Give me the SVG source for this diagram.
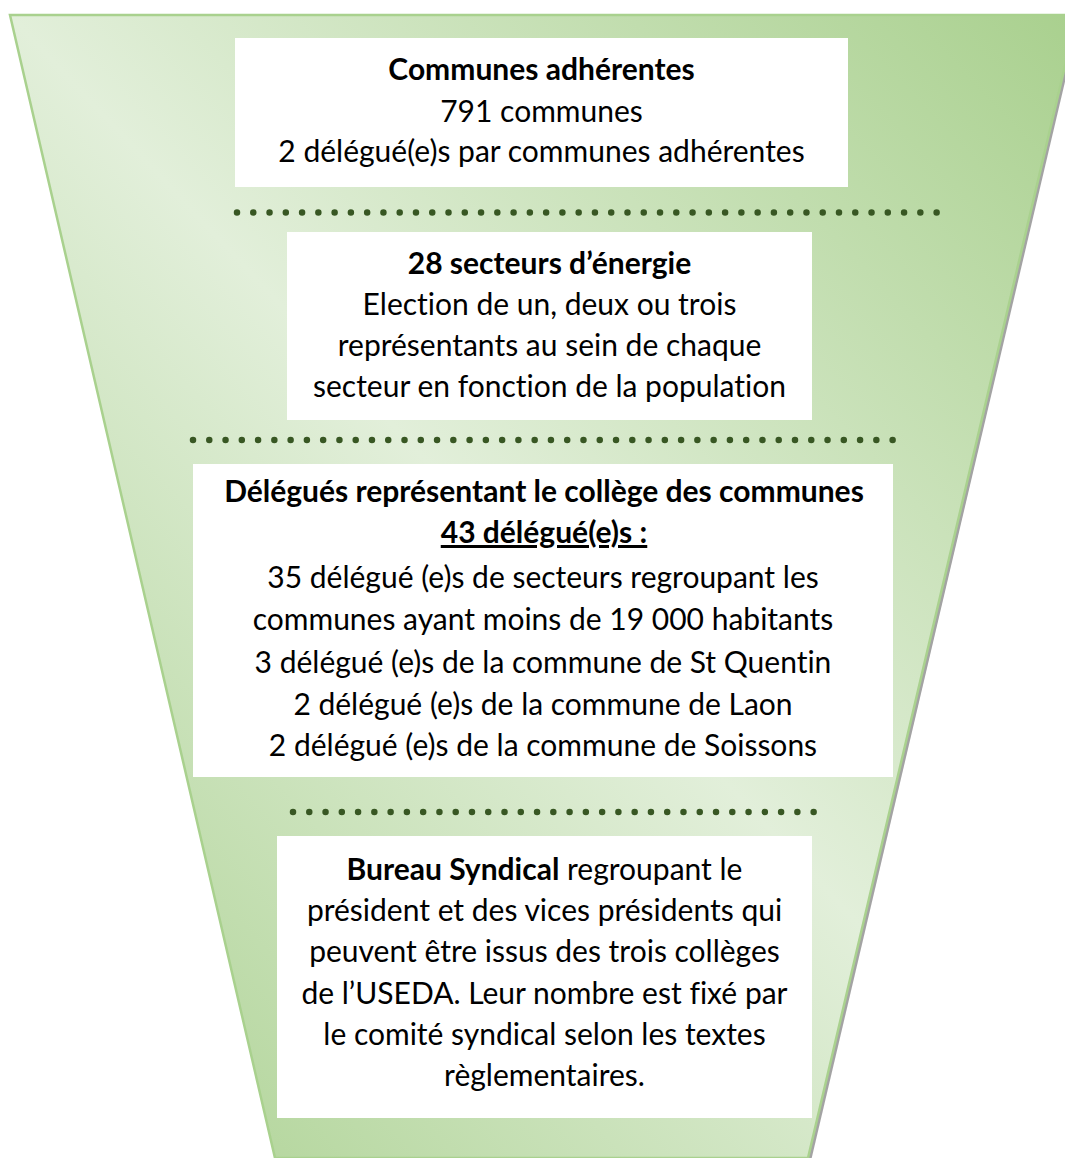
<svg xmlns="http://www.w3.org/2000/svg" width="1065" height="1158" viewBox="0 0 1065 1158">
<style>
  .t { font-family: Lato, "Liberation Sans", sans-serif; font-size: 30px; fill: #000; text-anchor: middle; font-variant-ligatures: none; font-feature-settings: "liga" 0, "clig" 0; }
  .b { font-weight: bold; }
  .box { fill: #ffffff; }
  .dots { stroke: #385723; stroke-width: 6.5; stroke-linecap: round; stroke-dasharray: 0 16.27; fill: none; }
</style>
<defs>
  <linearGradient id="fg" x1="1" y1="0" x2="0" y2="1">
    <stop offset="0" stop-color="#a9d08e"/>
    <stop offset="0.5" stop-color="#e2efda"/>
    <stop offset="1" stop-color="#a9d08e"/>
  </linearGradient>
</defs>
<rect width="1065" height="1158" fill="#ffffff"/>
<g id="funnel">
  <polygon points="13,18 1080,18 811,1161 278,1161" fill="#a3a3a3"/>
  <polygon points="10,15 1077,15 808,1158 275,1158" fill="url(#fg)" stroke="#a9d18e" stroke-width="2.5" stroke-linejoin="miter"/>
</g>
<g id="separators">
  <line class="dots" x1="237" y1="212.5" x2="937" y2="212.5"/>
  <line class="dots" x1="193" y1="440" x2="894" y2="440"/>
  <line class="dots" x1="293" y1="812" x2="815" y2="812"/>
</g>
<g id="node1">
  <rect class="box" x="235" y="38" width="613" height="149"/>
  <text class="t b" x="541.5" y="80">Communes adhérentes</text>
  <text class="t" x="541.5" y="121.5">791 communes</text>
  <text class="t" x="541.5" y="161.5">2 délégué(e)s par communes adhérentes</text>
</g>
<g id="node2">
  <rect class="box" x="287" y="232" width="525" height="188"/>
  <text class="t b" x="549.5" y="274">28 secteurs d’énergie</text>
  <text class="t" x="549.5" y="315">Election de un, deux ou trois</text>
  <text class="t" x="549.5" y="356">représentants au sein de chaque</text>
  <text class="t" x="549.5" y="397">secteur en fonction de la population</text>
</g>
<g id="node3">
  <rect class="box" x="193" y="464" width="700" height="313"/>
  <text class="t b" x="544" y="502">Délégués représentant le collège des communes</text>
  <text class="t b" x="544" y="543" text-decoration="underline">43 délégué(e)s :</text>
  <text class="t" x="543" y="588">35 délégué (e)s de secteurs regroupant les</text>
  <text class="t" x="543" y="630">communes ayant moins de 19 000 habitants</text>
  <text class="t" x="543" y="673">3 délégué (e)s de la commune de St Quentin</text>
  <text class="t" x="543" y="715">2 délégué (e)s de la commune de Laon</text>
  <text class="t" x="543" y="756">2 délégué (e)s de la commune de Soissons</text>
</g>
<g id="node4">
  <rect class="box" x="277" y="836" width="535" height="282"/>
  <text class="t" x="544.5" y="880"><tspan class="b">Bureau Syndical</tspan> regroupant le</text>
  <text class="t" x="544.5" y="921">président et des vices présidents qui</text>
  <text class="t" x="544.5" y="962">peuvent être issus des trois collèges</text>
  <text class="t" x="544.5" y="1004">de l’USEDA. Leur nombre est fixé par</text>
  <text class="t" x="544.5" y="1045">le comité syndical selon les textes</text>
  <text class="t" x="544.5" y="1086">règlementaires.</text>
</g>
</svg>
